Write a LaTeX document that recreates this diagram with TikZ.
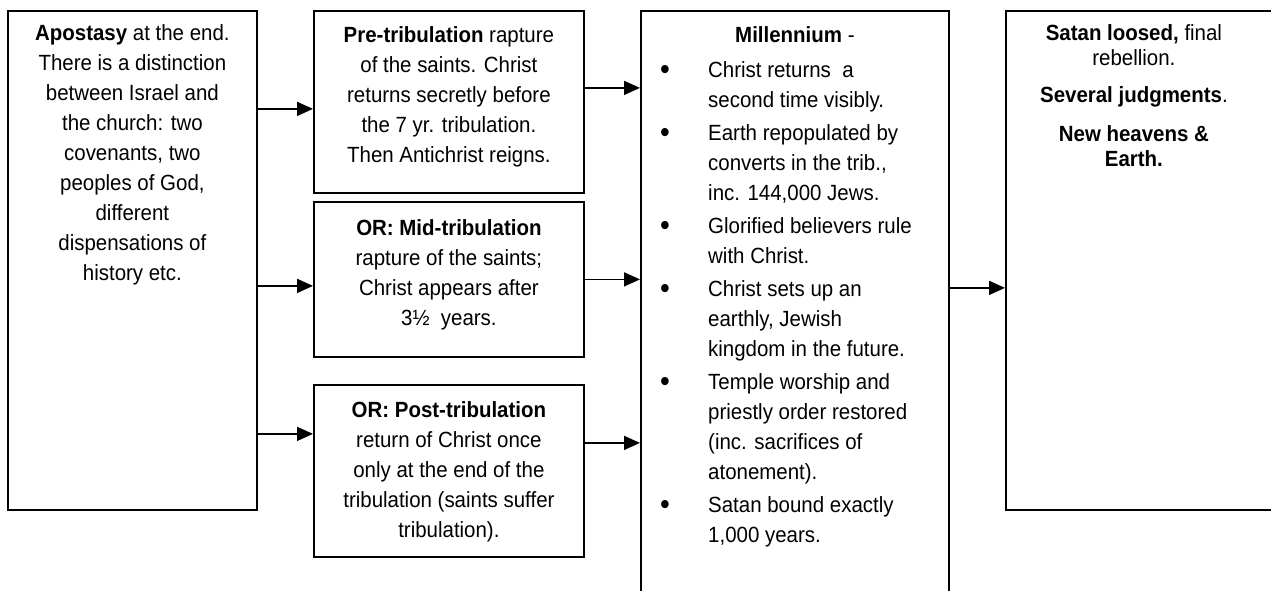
\documentclass[tikz,border=0pt]{standalone}
\usepackage{fontspec}
\setmainfont{Liberation Sans}[FakeStretch=0.93]
\usetikzlibrary{arrows.meta, positioning}

\newcommand{\bul}{\raisebox{-2.5pt}{\fontsize{30}{30}\selectfont •}}

\tikzset{
  box/.style={draw, line width=1.8pt, anchor=north west, inner sep=0pt},
  txt/.style={align=center, inner sep=0pt, anchor=north, font=\fontsize{22}{30}\selectfont},
  arr/.style={line width=1.6pt, -{Triangle[length=16pt, width=14pt]}},
}

\begin{document}
\begin{tikzpicture}[x=1pt, y=-1pt]
\useasboundingbox (0,0) rectangle (1271,591);

% boxes
\node[box, minimum width=249pt, minimum height=499pt] (apo) at (7,10) {};
\node[box, minimum width=270pt, minimum height=182pt] (pre) at (313,10) {};
\node[box, minimum width=270pt, minimum height=155pt] (mid) at (313,201) {};
\node[box, minimum width=270pt, minimum height=172pt] (post) at (313,384) {};
\node[box, minimum width=308pt, minimum height=620pt] (mill) at (640,10) {};
\node[box, minimum width=300pt, minimum height=499pt] (fin) at (1005,10) {};

% texts
\node[txt, below=14pt of apo.north] (apoT) {\textbf{Apostasy} at the end.\\
There is a distinction\\ between Israel and\\ the church: two\\ covenants, two\\
peoples of God,\\ different\\ dispensations of\\ history etc.};
\node[txt, below=16pt of pre.north] (preT) {\textbf{Pre-tribulation} rapture\\
of the saints. Christ\\ returns secretly before\\ the 7 yr. tribulation.\\
Then Antichrist reigns.};
\node[txt, below=18pt of mid.north] (midT) {\textbf{OR: Mid-tribulation}\\
rapture of the saints;\\ Christ appears after\\ 3½\ \ years.};
\node[txt, below=17pt of post.north] (postT) {\textbf{OR: Post-tribulation}\\
return of Christ once\\ only at the end of the\\ tribulation (saints suffer\\
tribulation).};
\node[txt, below=16pt of mill.north] (millT) {\textbf{Millennium} -};
\node[txt, anchor=north west, align=left] (millL) at (660,56) {%
\begin{tabular}{@{}p{48pt}@{}l@{}}
\bul&Christ returns\ \ a\\
 &second time visibly.\\[3pt]
\bul&Earth repopulated by\\
 &converts in the trib.,\\
 &inc. 144,000 Jews.\\[3pt]
\bul&Glorified believers rule\\
 &with Christ.\\[3pt]
\bul&Christ sets up an\\
 &earthly, Jewish\\
 &kingdom in the future.\\[3pt]
\bul&Temple worship and\\
 &priestly order restored\\
 &(inc. sacrifices of\\
 &atonement).\\[3pt]
\bul&Satan bound exactly\\
 &1,000 years.
\end{tabular}};
\node[txt, font=\fontsize{22}{25}\selectfont, below=14pt of fin.north, xshift=-22pt] (finT)
{\textbf{Satan loosed,} final\\ rebellion.\\[12pt] \textbf{Several judgments}.\\[14pt]
\textbf{New heavens \&}\\ \textbf{Earth.}};

% connectors
\coordinate (a1) at ([yshift=-7pt]pre.west);
\coordinate (a2) at ([yshift=-6.5pt]mid.west);
\coordinate (a3) at ([yshift=37pt]post.west);
\draw[arr] (apo.east |- a1) -- (a1);
\draw[arr] (apo.east |- a2) -- (a2);
\draw[arr] (apo.east |- a3) -- (a3);
\coordinate (b1) at ([yshift=14pt]pre.east);
\coordinate (b2) at (mid.east);
\coordinate (b3) at ([yshift=28pt]post.east);
\draw[arr] (b1) -- (mill.west |- b1);
\draw[arr] (b2) -- (mill.west |- b2);
\draw[arr] (b3) -- (mill.west |- b3);
\coordinate (c1) at ([yshift=33pt]mill.east);
\draw[arr] (c1) -- (fin.west |- c1);
\end{tikzpicture}
\end{document}
